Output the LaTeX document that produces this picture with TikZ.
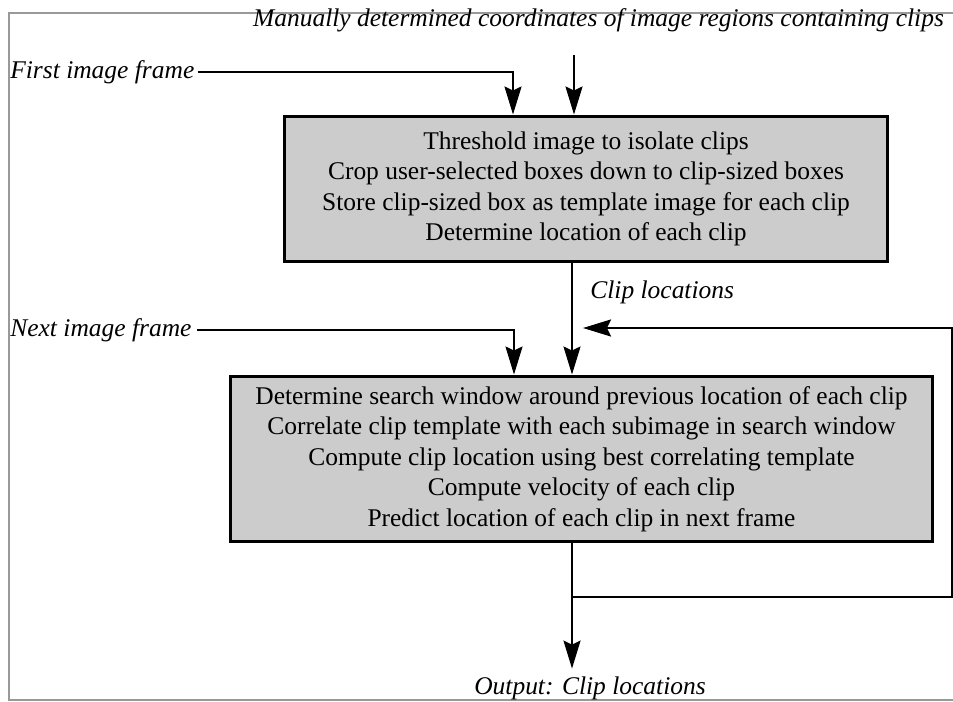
\documentclass[tikz,border=0pt]{standalone}
\usepackage{fontspec}
\setmainfont{Liberation Serif}
\usepackage{xcolor}
\usetikzlibrary{arrows.meta,positioning}

\definecolor{boxgray}{gray}{0.8}
\definecolor{edgegray}{gray}{0.6}

\begin{document}
\begin{tikzpicture}[
    x=0.02cm, y=-0.02cm,
    >={Stealth[length=5.6mm,width=3.4mm,inset=0.8mm]},
    stepbox/.style={
      draw,
      line width=1.7pt,
      fill=boxgray,
      inner sep=0pt,
      align=center,
      font=\fontsize{14.5}{17.3}\selectfont
    },
    inlabel/.style={inner sep=0pt, font=\fontsize{14.5}{17}\selectfont\itshape},
    feed/.style={->, line width=1.2pt}
  ]
  \useasboundingbox (0,0) rectangle (953,702);
  % page frame of the scan
  \draw[edgegray, line width=0.6pt] (953,13) -- (9,13) -- (9,700) -- (953,700);

  \node[stepbox, minimum width=12.08cm, minimum height=2.92cm] (init) at (586,189)
    {Threshold image to isolate clips\\
     Crop user-selected boxes down to clip-sized boxes\\
     Store clip-sized box as template image for each clip\\
     Determine location of each clip};
  \node[stepbox, minimum width=14.06cm, minimum height=3.32cm] (track) at (581.5,459)
    {Determine search window around previous location of each clip\\
     Correlate clip template with each subimage in search window\\
     Compute clip location using best correlating template\\
     Compute velocity of each clip\\
     Predict location of each clip in next frame};

  \node[inlabel] (coordsin) at (598.5,20)
    {Manually determined coordinates of image regions containing clips};
  \node[inlabel, anchor=west] (firstin) at (10,72) {First image frame};
  \node[inlabel, anchor=west] (nextin) at (10,330) {Next image frame};
  \node[inlabel, anchor=west] (cliploc) at (590,292) {Clip locations};
  \node[inlabel] (output) at (590,688) {Output: Clip locations};

  \coordinate (trunk) at (572,0);
  \coordinate (coordsdrop) at (574,55);
  \coordinate (firstdrop) at (513,0);
  \coordinate (nextdrop) at (514,0);
  \coordinate (loopret) at (952,597);
  \coordinate (looptop) at (952,328);

  \draw[feed] ([xshift=0.06cm]firstin.east) -| (init.north -| firstdrop);
  \draw[feed] (coordsdrop) -- (init.north -| coordsdrop);
  \draw[feed] (init.south -| trunk) -- (track.north -| trunk);
  \draw[feed] ([xshift=0.1cm]nextin.east) -| (track.north -| nextdrop);
  \draw[feed, shorten >=0.22cm] (track.south -| trunk) |- (loopret) |- (looptop -| trunk);
  \draw[feed, shorten >=0.15cm] (track.south -| trunk) -- (output.north -| trunk);
\end{tikzpicture}
\end{document}
